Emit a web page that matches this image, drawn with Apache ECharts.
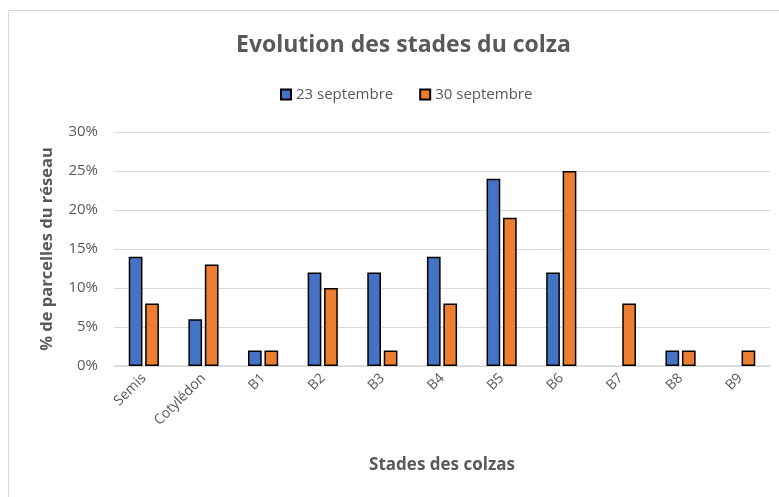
<!DOCTYPE html>
<html><head><meta charset="utf-8">
<script src="https://cdn.jsdelivr.net/npm/echarts@6/dist/echarts.min.js"></script>
<style>html,body{margin:0;padding:0;background:#fff}#c{width:779px;height:497px}</style>
</head><body><div id="c"></div>
<script>
var categories = ['Semis','Cotylédon','B1','B2','B3','B4','B5','B6','B7','B8','B9'];
var sept23 = [14, 6, 2, 12, 12, 14, 24, 12, null, 2, null];
var sept30 = [8, 13, 2, 10, 2, 8, 19, 25, 8, 2, 2];
var seriesNames = ['23 septembre', '30 septembre'];
var yTicks = [0, 5, 10, 15, 20, 25, 30];

var FONT = '"Open Sans", "Liberation Sans", sans-serif';
var chart = echarts.init(document.getElementById('c'));
chart.setOption({
  animation: false,
  backgroundColor: '#fff',
  textStyle: { fontFamily: FONT },
  graphic: [{
    type: 'rect', shape: { x: 8.5, y: 10.5, width: 800, height: 600 },
    style: { fill: 'none', stroke: '#d9d9d9', lineWidth: 1 }, silent: true
  }],
  title: {
    text: 'Evolution des stades du colza', left: 231, top: 29,
    textStyle: { fontFamily: FONT, fontSize: 23, fontWeight: 'bold', color: '#595959' }
  },
  legend: {
    top: 82, left: 275, itemWidth: 10, itemHeight: 10, itemGap: 26,
    textStyle: { fontFamily: FONT, fontSize: 15, color: '#595959' },
    data: seriesNames.map(function (n) { return { name: n, icon: 'rect' }; })
  },
  grid: { left: 114, right: 9, top: 132, bottom: 131 },
  xAxis: {
    type: 'category', data: categories,
    name: 'Stades des colzas', nameLocation: 'middle', nameGap: 91,
    nameTextStyle: { fontFamily: FONT, fontSize: 17, fontWeight: 'bold', color: '#595959' },
    axisLine: { lineStyle: { color: '#d9d9d9', width: 1.5 } },
    axisTick: { show: false },
    axisLabel: { rotate: 45, fontSize: 14, color: '#595959', margin: 10, fontFamily: FONT }
  },
  yAxis: {
    type: 'value', min: 0, max: 30, interval: 5,
    name: '% de parcelles du réseau', nameLocation: 'middle', nameGap: 58,
    nameTextStyle: { fontFamily: FONT, fontSize: 16.5, fontWeight: 'bold', color: '#595959' },
    axisLine: { show: false }, axisTick: { show: false },
    axisLabel: { formatter: function (v) { return yTicks.indexOf(v) >= 0 ? v + '%' : ''; },
      fontSize: 15, color: '#595959', margin: 16, fontFamily: FONT },
    splitLine: { lineStyle: { color: '#d9d9d9', width: 1.2 } }
  },
  series: [
    { name: seriesNames[0], type: 'bar', data: sept23, barWidth: '23%', barGap: '20%',
      itemStyle: { color: '#4472c4', borderColor: '#000', borderWidth: 1.5 } },
    { name: seriesNames[1], type: 'bar', data: sept30, barWidth: '23%', barGap: '20%',
      itemStyle: { color: '#ed7d31', borderColor: '#000', borderWidth: 1.5 } }
  ]
});
</script></body></html>
